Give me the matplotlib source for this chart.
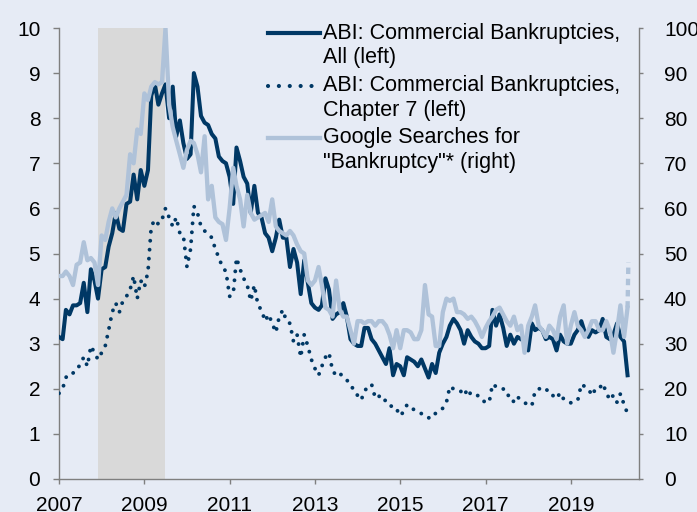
import numpy as np
import pandas as pd
import matplotlib
matplotlib.use('Agg')
import matplotlib.pyplot as plt
import matplotlib.dates as mdates
from matplotlib.lines import Line2D

plt.rcParams['font.family'] = ['Liberation Sans', 'DejaVu Sans']

# monthly data, Jan 2007 - May 2020
dates = pd.date_range('2007-01-01', periods=161, freq='MS')

# ABI: commercial bankruptcies, all (thousands, left axis)
abi_all = [
    3.15, 3.1, 3.75, 3.65, 3.85, 3.85, 3.9, 4.35, 3.7, 4.65,
    4.4, 4.0, 4.65, 4.7, 5.15, 5.45, 5.9, 5.55, 5.5, 6.1,
    6.15, 6.75, 6.2, 6.85, 6.5, 6.85, 8.5, 8.75, 8.3, 8.55,
    8.75, 8.0, 8.7, 7.6, 7.95, 7.45, 7.1, 7.2, 9.0, 8.7,
    8.05, 7.9, 7.85, 7.65, 7.55, 7.15, 7.05, 7.0, 6.7, 6.1,
    7.35, 7.05, 6.7, 6.55, 5.9, 6.5, 5.9, 5.8, 5.45, 5.35,
    5.05, 5.35, 5.75, 5.35, 5.35, 4.7, 5.1, 4.8, 4.1, 4.85,
    4.35, 3.9, 3.8, 3.75, 3.85, 4.45, 4.2, 3.55, 3.65, 3.7,
    3.9, 3.6, 3.1, 3.0, 2.95, 2.95, 3.35, 3.35, 3.1, 3.0,
    2.85, 2.7, 2.55, 2.9, 2.3, 2.55, 2.5, 2.3, 2.7, 2.65,
    2.6, 2.5, 2.65, 2.45, 2.25, 2.55, 2.35, 2.8, 3.0, 3.15,
    3.4, 3.55, 3.45, 3.3, 3.0, 3.3, 3.15, 3.05, 3.0, 2.9,
    2.9, 2.95, 3.75, 3.4, 3.65, 3.35, 2.95, 3.2, 3.0, 3.15,
    3.1, 3.05, 2.85, 3.45, 3.3, 3.35, 3.3, 3.1, 3.15, 3.1,
    2.85, 3.2, 3.05, 3.0, 3.0, 3.2, 3.3, 3.5, 3.25, 3.15,
    3.3, 3.25, 3.3, 3.55, 3.15, 3.1, 3.2, 3.45, 3.15, 3.05,
    2.3,
]

# ABI: commercial bankruptcies, chapter 7 (left axis)
abi_ch7 = [
    1.9, 2.0, 2.25, 2.35, 2.35, 2.4, 2.55, 2.7, 2.5, 2.95,
    2.8, 2.65, 2.8, 2.95, 3.3, 3.7, 3.9, 3.7, 3.95, 4.05,
    4.2, 4.5, 4.0, 4.4, 4.25, 4.6, 5.6, 5.75, 5.65, 5.75,
    6.0, 5.8, 5.6, 5.8, 5.45, 5.4, 4.7, 5.1, 6.05, 5.9,
    5.6, 5.5, 5.45, 5.35, 5.1, 4.9, 4.7, 4.6, 4.05, 4.1,
    4.9, 4.65, 4.45, 4.3, 3.95, 4.3, 3.85, 3.75, 3.5, 3.65,
    3.45, 3.25, 3.6, 3.75, 3.5, 3.45, 3.05, 3.2, 2.7, 3.2,
    2.95, 2.65, 2.45, 2.3, 2.5, 2.7, 2.8, 2.4, 2.3, 2.35,
    2.25, 2.2, 2.05, 2.0, 1.85, 1.75, 1.95, 2.05, 2.1, 1.8,
    1.85, 1.72, 1.75, 1.68, 1.55, 1.55, 1.4, 1.5, 1.65, 1.6,
    1.53, 1.5, 1.45, 1.4, 1.35, 1.46, 1.45, 1.5, 1.57, 1.7,
    2.05, 2.0, 1.95, 1.95, 1.85, 2.0, 1.85, 1.85, 1.85, 1.75,
    1.7, 1.7, 2.1, 2.05, 2.05, 2.0, 1.85, 1.86, 1.7, 1.82,
    1.75, 1.69, 1.65, 1.62, 1.95, 2.0, 2.0, 2.02, 1.87, 1.85,
    1.78, 1.91, 1.77, 1.75, 1.69, 1.72, 1.74, 2.1, 2.05, 2.0,
    1.85, 2.0, 2.0, 2.12, 1.92, 1.75, 1.86, 1.7, 1.89, 1.65,
    1.45,
]

# Google searches for "Bankruptcy" (index, right axis)
google = [
    45, 45, 46, 45, 43, 47.5, 48, 52.5, 48.5, 49,
    48, 43, 54, 53, 57, 60, 58, 60, 61.5, 63,
    72, 70, 77.5, 76.5, 85.5, 84, 87, 88, 87.5, 88,
    100, 83, 78, 75, 72, 69, 73, 75, 74.5, 72,
    68, 76, 62, 65, 58, 57, 56.5, 53, 60, 69,
    65, 62, 56, 63, 59, 57.5, 58, 58.5, 59, 57,
    62, 56, 55, 54.5, 54, 55, 54, 52, 50.5, 50,
    44, 43, 44, 47, 43, 38, 37.5, 36, 44, 37.5,
    36, 36, 33, 30, 35, 35, 34.5, 35, 35, 34,
    35, 35, 34, 32, 29, 33, 29, 33, 33, 32.5,
    31, 31, 33, 43, 36.5, 36, 29.5, 29.5, 37, 40,
    39.5, 40, 37, 37, 36.5, 35.5, 36, 35, 33.5, 31.5,
    33.5, 35, 36, 37.5, 38, 36.5, 35, 34, 36, 33,
    34, 28, 34, 36, 38.5, 34, 33, 31.5, 34, 33,
    31, 36, 38.5, 30, 34, 37, 34, 33, 31.5, 33,
    35, 35, 33, 33, 35, 33, 28, 33, 38.5, 31.5,
    38,
]
# latest (partial) reading, shown dashed
google_latest_date = pd.Timestamp('2020-05-08')
google_latest = 48

recession = (pd.Timestamp('2007-12-01'), pd.Timestamp('2009-07-01'))
year_ticks = pd.date_range('2007-01-01', '2019-01-01', freq='24MS')

bg = '#E6EBF5'
dark = '#003865'
light = '#AFC2D9'
grey = '#7F7F7F'

fig = plt.figure(figsize=(6.97, 5.12), dpi=100, facecolor=bg)
ax = fig.add_axes([59 / 697, 33 / 512, 580 / 697, 451 / 512])
ax.set_facecolor(bg)
ax2 = ax.twinx()

ax.axvspan(recession[0], recession[1], color='#D9D9D9', lw=0, zorder=0)
ax.plot(dates, abi_all, color=dark, lw=2.9, zorder=3)
ax.plot(dates, abi_ch7, color=dark, lw=2.8, linestyle=(0, (0.01, 2.3)),
        dash_capstyle='round', zorder=3)
ax2.plot(dates, google, color=light, lw=3.1, zorder=3)
ax2.plot([dates[-1], google_latest_date], [google[-1], google_latest],
         color=light, lw=3.1, linestyle=(0, (1.5, 1.1)), zorder=3)

ax.set_ylim(0, 10)
ax2.set_ylim(0, 100)
ax.set_yticks(range(0, 11))
ax2.set_yticks(range(0, 101, 10))
ax.set_xlim(pd.Timestamp('2007-01-01'), pd.Timestamp('2020-08-07'))
ax.set_xticks(year_ticks)
ax.xaxis.set_major_formatter(mdates.DateFormatter('%Y'))

for a in (ax, ax2):
    a.spines['top'].set_visible(False)
    for s in a.spines.values():
        s.set_color(grey)
        s.set_linewidth(1)
ax.spines['right'].set_visible(False)
ax2.spines['left'].set_visible(False)
ax2.spines['bottom'].set_visible(False)

ax.tick_params(axis='y', length=4.5, width=1, color=grey, pad=9, labelsize=15)
ax.tick_params(axis='x', length=3.5, width=1, color=grey, pad=8.5, labelsize=15)
ax2.tick_params(axis='y', length=3, width=1, color=grey, pad=15, labelsize=15)

# legend, drawn by hand so handles line up with the first text line
W, H = 697, 512
entries = [
    (['ABI: Commercial Bankruptcies,', 'All (left)'], dict(color=dark, lw=3)),
    (['ABI: Commercial Bankruptcies,', 'Chapter 7 (left)'],
     dict(color=dark, lw=3, linestyle=(0, (0.01, 2.6)), dash_capstyle='round')),
    (['Google Searches for', '"Bankruptcy"* (right)'], dict(color=light, lw=3.1)),
]
row_y = [33, 86, 138]
for (lines, style), y in zip(entries, row_y):
    fig.add_artist(Line2D([268 / W, 320 / W], [1 - y / H, 1 - y / H],
                          transform=fig.transFigure, **style))
    for k, txt in enumerate(lines):
        fig.text(323 / W, 1 - (y + k * 24.5) / H, txt, fontsize=15.5,
                 va='center', ha='left')

fig.savefig('out.png', dpi=100, facecolor=bg)
